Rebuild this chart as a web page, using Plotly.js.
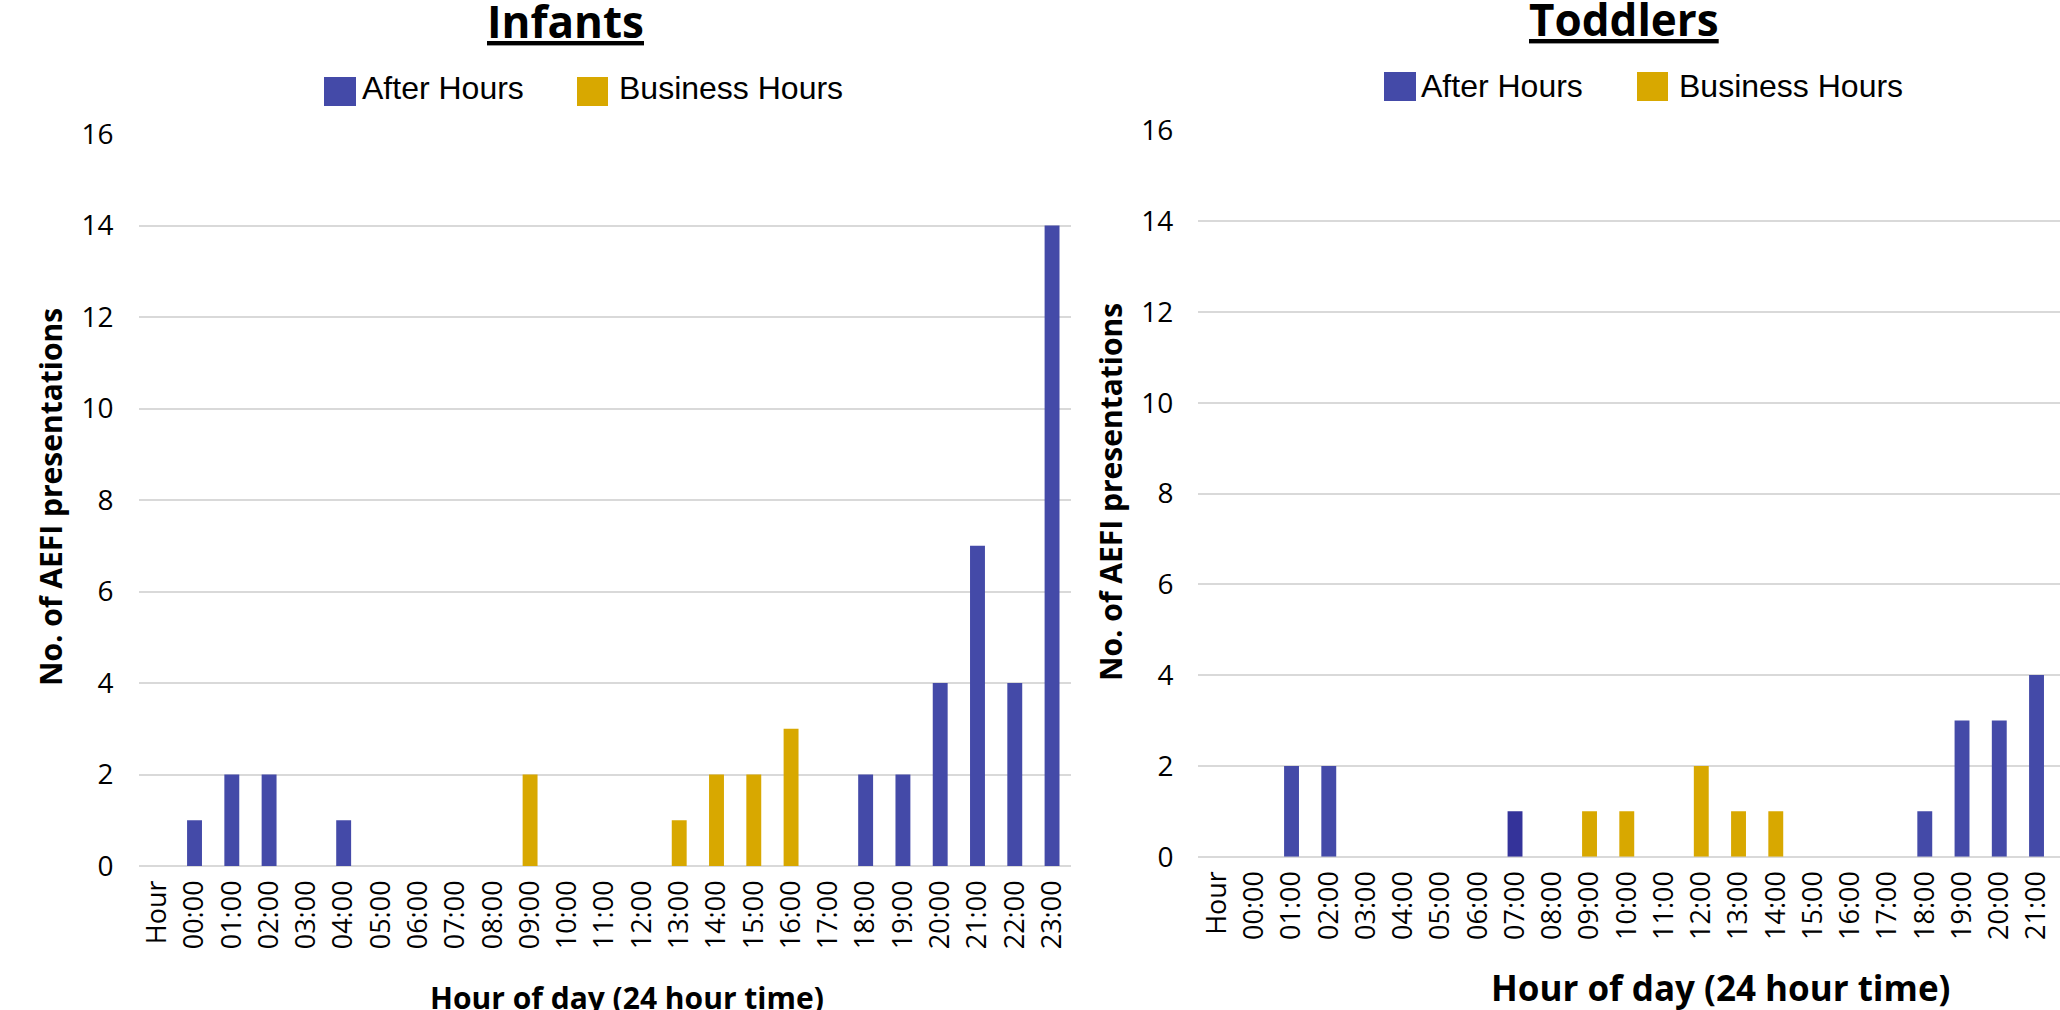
<!DOCTYPE html>
<html>
<head>
<meta charset="utf-8">
<script src="https://cdn.plot.ly/plotly-3.0.1.min.js"></script>
<style>
  html, body { margin: 0; padding: 0; background: #fff; }
  #chart { width: 2060px; height: 1010px; }
</style>
</head>
<body>
<div id="chart"></div>
<script>
// Hour-of-day categories shared by both panels
const hours = ['Hour', '00:00', '01:00', '02:00', '03:00', '04:00', '05:00', '06:00', '07:00',
  '08:00', '09:00', '10:00', '11:00', '12:00', '13:00', '14:00', '15:00', '16:00', '17:00',
  '18:00', '19:00', '20:00', '21:00', '22:00', '23:00'];

// Infants: AEFI presentations per hour
const infantsAfterHours = [null, 1, 2, 2, 0, 1, 0, 0, 0, 0, null, null, null, null, null, null, null, null,
  0, 2, 2, 4, 7, 4, 14];
const infantsBusinessHours = [null, null, null, null, null, null, null, null, null, null, 2, 0, 0, 0, 1, 2, 2, 3,
  null, null, null, null, null, null, null];

// Toddlers: AEFI presentations per hour (panel shows up to 21:00)
const toddlersAfterHours = [null, 0, 2, 2, 0, 0, 0, 0, 1, 0, null, null, null, null, null, null, null, null,
  0, 1, 3, 3, 4];
const toddlersBusinessHours = [null, null, null, null, null, null, null, null, null, null, 1, 1, 0, 2, 1, 1, 0, 0,
  null, null, null, null, null];

const seriesNames = ['After Hours', 'Business Hours'];
const panelTitles = ['Infants', 'Toddlers'];
const yTitle = 'No. of AEFI presentations';
const xTitle = 'Hour of day (24 hour time)';

const W = 2060, H = 1010;
const BLUE = '#444aa8', GOLD = '#d8a800', BLUE_DARK = '#34339a';
const TEXT_FONT = '"Open Sans", "Noto Sans", sans-serif';
const LEGEND_FONT = '"Liberation Sans", Arial, sans-serif';

// pixel helpers for paper coordinates (margins are zero)
const px = x => x / W;
const py = y => 1 - y / H;

// the 07:00 toddler bar is drawn in a deeper blue
const toddlerBlue = hours.slice(0, toddlersAfterHours.length).map(h => h === '07:00' ? BLUE_DARK : BLUE);

const traces = [
  { type: 'bar', name: seriesNames[0], x: hours, y: infantsAfterHours, marker: { color: BLUE },
    xaxis: 'x', yaxis: 'y', showlegend: false },
  { type: 'bar', name: seriesNames[1], x: hours, y: infantsBusinessHours, marker: { color: GOLD },
    xaxis: 'x', yaxis: 'y', showlegend: false },
  { type: 'bar', name: seriesNames[0], x: hours, y: toddlersAfterHours, marker: { color: toddlerBlue },
    xaxis: 'x2', yaxis: 'y2', showlegend: false },
  { type: 'bar', name: seriesNames[1], x: hours, y: toddlersBusinessHours, marker: { color: GOLD },
    xaxis: 'x2', yaxis: 'y2', showlegend: false }
];

const xCommon = {
  type: 'category',
  showgrid: false,
  zeroline: false,
  showline: false,
  ticks: '',
  tickangle: -90,
  ticklabelstandoff: 8,
  tickfont: { family: TEXT_FONT, size: 27, color: '#000' },
  fixedrange: true
};
const yCommon = {
  range: [0, 16],
  dtick: 2,
  tick0: 0,
  showgrid: true,
  gridcolor: '#d9d9d9',
  gridwidth: 2,
  zeroline: true,
  zerolinecolor: '#d9d9d9',
  zerolinewidth: 2,
  showline: false,
  ticks: '',
  ticklabelstandoff: 24,
  tickfont: { family: TEXT_FONT, size: 28, color: '#000' },
  fixedrange: true
};

// custom legend keys drawn as shapes with text annotations
function legendItems(boxes, texts) {
  const shapes = boxes.map((b, i) => ({
    type: 'rect', xref: 'paper', yref: 'paper',
    x0: px(b[0]), x1: px(b[1]), y0: py(b[3]), y1: py(b[2]),
    fillcolor: i === 0 ? BLUE : GOLD, line: { width: 0 }
  }));
  const anns = texts.map((t, i) => ({
    xref: 'paper', yref: 'paper', x: px(t[0]), y: py(t[1]),
    xanchor: 'left', yanchor: 'middle', showarrow: false,
    text: seriesNames[i], font: { family: LEGEND_FONT, size: 32, color: '#000' }
  }));
  return { shapes, anns };
}

const legL = legendItems([[324, 356, 77, 106], [577, 608, 77, 106]], [[360, 88], [617, 88]]);
const legR = legendItems([[1384, 1416, 72, 101], [1637, 1668, 72, 101]], [[1419, 86], [1677, 86]]);

const titleFont = size => ({ family: TEXT_FONT, size: size, color: '#000', weight: 700 });

const annotations = [
  { xref: 'paper', yref: 'paper', x: px(565), y: py(21), xanchor: 'center', yanchor: 'middle',
    showarrow: false, text: '<b>' + panelTitles[0] + '</b>',
    font: Object.assign(titleFont(44), { lineposition: 'under' }) },
  { xref: 'paper', yref: 'paper', x: px(1624), y: py(19), xanchor: 'center', yanchor: 'middle',
    showarrow: false, text: '<b>' + panelTitles[1] + '</b>',
    font: Object.assign(titleFont(44), { lineposition: 'under' }) },
  { xref: 'paper', yref: 'paper', x: px(50), y: py(497), xanchor: 'center', yanchor: 'middle',
    showarrow: false, textangle: -90, text: '<b>' + yTitle + '</b>', font: titleFont(30) },
  { xref: 'paper', yref: 'paper', x: px(1110), y: py(492), xanchor: 'center', yanchor: 'middle',
    showarrow: false, textangle: -90, text: '<b>' + yTitle + '</b>', font: titleFont(30) },
  { xref: 'paper', yref: 'paper', x: px(627), y: py(997), xanchor: 'center', yanchor: 'middle',
    showarrow: false, text: '<b>' + xTitle + '</b>', font: titleFont(30) },
  { xref: 'paper', yref: 'paper', x: px(1720), y: py(987), xanchor: 'center', yanchor: 'middle',
    showarrow: false, text: '<b>' + xTitle + '</b>', font: titleFont(35) }
].concat(legL.anns, legR.anns);

const layout = {
  width: W,
  height: H,
  autosize: false,
  margin: { l: 0, r: 0, t: 0, b: 0, pad: 0 },
  paper_bgcolor: '#fff',
  plot_bgcolor: '#fff',
  barmode: 'overlay',
  bargap: 0.6,
  showlegend: false,
  xaxis: Object.assign({}, xCommon, { domain: [px(138.6), px(1070.7)], range: [-0.5, 24.5], anchor: 'y' }),
  yaxis: Object.assign({}, yCommon, { domain: [py(866), py(134)], anchor: 'x' }),
  xaxis2: Object.assign({}, xCommon, { domain: [px(1198.4), 1], range: [-0.5, 22.63], anchor: 'y2' }),
  yaxis2: Object.assign({}, yCommon, { domain: [py(856.7), py(130.3)], anchor: 'x2' }),
  shapes: legL.shapes.concat(legR.shapes),
  annotations: annotations
};

Plotly.newPlot('chart', traces, layout, { displayModeBar: false, staticPlot: true });
</script>
</body>
</html>
